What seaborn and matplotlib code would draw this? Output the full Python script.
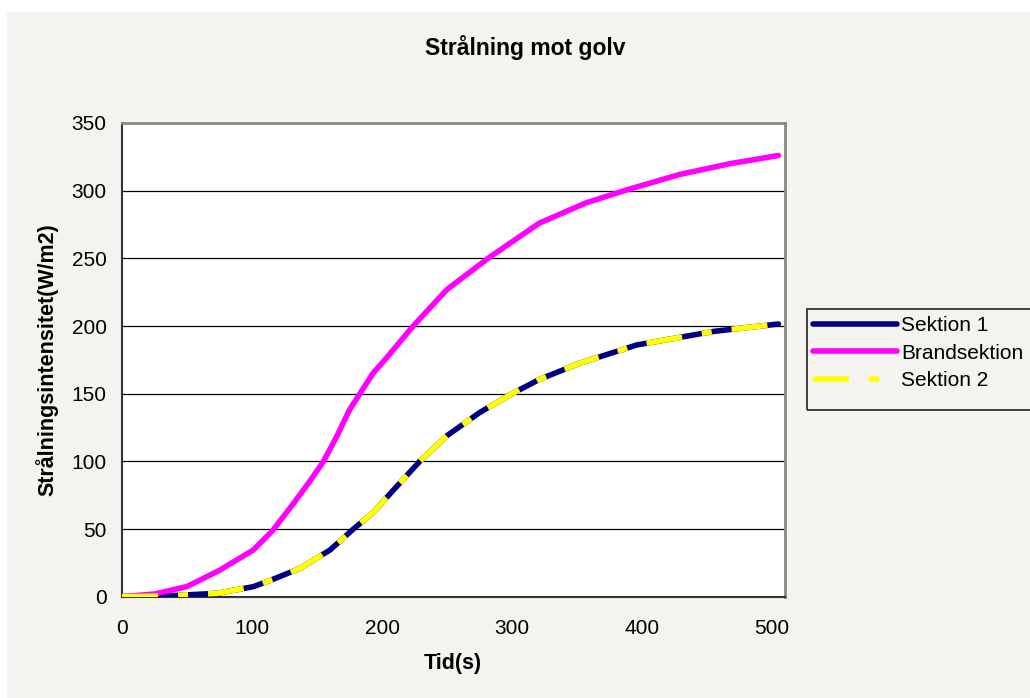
import matplotlib
matplotlib.use("Agg")
import matplotlib.pyplot as plt
from matplotlib.patches import Rectangle
import seaborn as sns
import pandas as pd

# ---- data ----
t_sektion1 = [0, 32, 73, 101, 116, 137, 160, 178, 193, 209, 229, 250, 275, 300, 321, 352, 396, 455, 505]
sektion1 = [0, 0.5, 2.5, 7.4, 12.8, 21, 34.5, 50, 62, 79, 100, 119, 136, 150, 160.5, 172.5, 186, 196, 201.5]
t_brand = [0, 25, 50, 75, 101, 116, 132, 145, 155, 165, 175, 183, 193, 204, 224, 250, 283, 321, 357, 388, 429, 468, 505]
brandsektion = [0, 2, 7.5, 19.5, 34.5, 49, 69, 86, 100, 118, 138, 150, 165, 177, 200, 227, 251, 276, 291, 300.5, 312, 320, 326]
t_sektion2 = [0, 32, 73, 101, 116, 137, 160, 178, 193, 209, 229, 250, 275, 300, 321, 352, 396, 455, 505]
sektion2 = [0, 0.5, 2.5, 7.4, 12.8, 21, 34.5, 50, 62, 79, 100, 119, 136, 150, 160.5, 172.5, 186, 196, 201.5]
yticks = [0, 50, 100, 150, 200, 250, 300, 350]
xticks = [0, 100, 200, 300, 400, 500]

sns.set_theme(style="white")
plt.rcParams['font.family'] = ['Liberation Sans', 'DejaVu Sans']
plt.rcParams['text.color'] = 'black'

BG = "#f4f3ef"
W, H = 1030, 698
fig = plt.figure(figsize=(W / 100, H / 100), dpi=100, facecolor="white")
fig.patches.append(Rectangle((7 / W, 0), 1, 1 - 12 / H, transform=fig.transFigure,
                             facecolor=BG, edgecolor="none", zorder=-10))

ax = fig.add_axes([122 / W, 1 - 596.7 / H, (785 - 122) / W, (596.7 - 123) / H])
ax.set_facecolor("white")

df1 = pd.DataFrame({"t": t_sektion1, "v": sektion1})
dfb = pd.DataFrame({"t": t_brand, "v": brandsektion})
df2 = pd.DataFrame({"t": t_sektion2, "v": sektion2})

for y in yticks[1:]:
    ax.axhline(y, color="black", lw=0.9, zorder=1)

sns.lineplot(data=df1, x="t", y="v", ax=ax, color="#000080", lw=4, label="Sektion 1",
             solid_capstyle="round", solid_joinstyle="round", zorder=3)
sns.lineplot(data=dfb, x="t", y="v", ax=ax, color="#ff00ff", lw=4, label="Brandsektion",
             solid_capstyle="round", solid_joinstyle="round", zorder=3)
sns.lineplot(data=df2, x="t", y="v", ax=ax, color="#ffff00", lw=4, label="Sektion 2",
             zorder=4, dashes=(6.5, 3.6, 1.8, 3.6))

ax.set_xlim(0, 510)
ax.set_ylim(0, 350)
ax.set_xticks(xticks)
ax.set_yticks(yticks)
ax.tick_params(axis="both", which="both", direction="out", length=6, width=1,
               color="#333333", labelsize=15, labelcolor="black", pad=5)
ax.tick_params(axis="x", pad=10)
ax.set_xlabel("")
ax.set_ylabel("")
for s in ["left", "bottom"]:
    ax.spines[s].set_color("#333333")
    ax.spines[s].set_linewidth(1.5)
for s in ["top", "right"]:
    ax.spines[s].set_color("#888888")
    ax.spines[s].set_linewidth(2)

fig.text(525 / W, 1 - 47 / H, "Strålning mot golv", ha="center", va="center",
         fontsize=16.5, fontweight="bold", color="black")
fig.text(453 / W, 1 - 663 / H, "Tid(s)", ha="center", va="center",
         fontsize=15.5, fontweight="bold", color="black")
fig.text(47 / W, 1 - 360 / H, "Strålningsintensitet(W/m2)", ha="center", va="center",
         rotation=90, fontsize=15.5, fontweight="bold", color="black")

leg = ax.legend(loc="upper left", bbox_to_anchor=(805 / W, 1 - 308 / H),
                bbox_transform=fig.transFigure, frameon=False, fontsize=15,
                handlelength=4.0, handletextpad=0.2, labelspacing=0.4, borderaxespad=0)
for txt in leg.get_texts():
    txt.set_color("black")
fig.patches.append(Rectangle((807 / W, 1 - 410 / H), 1, (410 - 309) / H,
                             transform=fig.transFigure, facecolor="none",
                             edgecolor="#222222", lw=1.2, zorder=5))

fig.savefig("out.png", dpi=100, facecolor="white")
